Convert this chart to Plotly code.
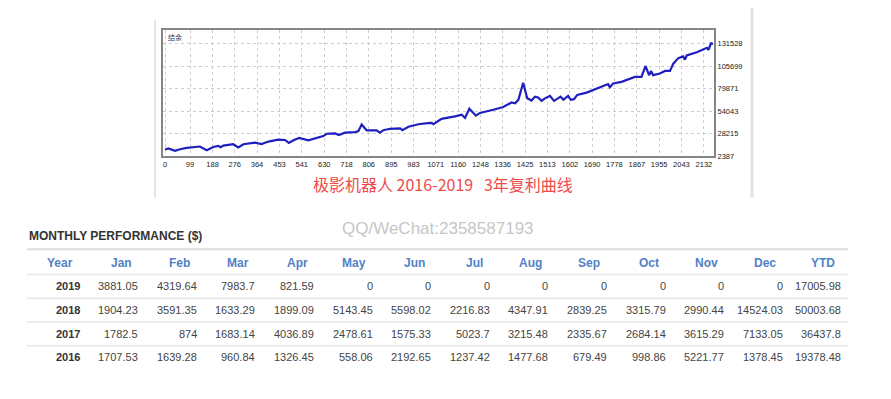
import plotly.graph_objects as go

# ---------------- data ----------------
# balance curve (trade index, balance)
trade_idx = [0, 13, 40, 59, 86, 138, 165, 191, 211, 220, 231, 270, 290, 310, 356, 382, 409, 448,
             475, 490, 508, 531, 567, 600, 626, 640, 673, 688, 712, 752, 765, 778, 798, 837, 850,
             864, 890, 930, 939, 963, 1002, 1040, 1055, 1062, 1088, 1094, 1147, 1174, 1187, 1204,
             1230, 1246, 1299, 1338, 1371, 1385, 1398, 1417, 1433, 1450, 1464, 1476, 1490, 1503,
             1523, 1539, 1565, 1576, 1595, 1605, 1618, 1631, 1668, 1701, 1727, 1753, 1760, 1773,
             1806, 1826, 1859, 1885, 1901, 1915, 1923, 1931, 1958, 1978, 1998, 2011, 2031, 2050,
             2057, 2064, 2104, 2144, 2150, 2160, 2168]
balance = [10000, 11100, 8400, 10300, 11800, 13400, 9200, 12900, 14100, 12600, 14500, 16000,
           12300, 16000, 17900, 16300, 19100, 21300, 20900, 17500, 20500, 23200, 20500, 23200,
           25400, 28100, 28500, 26600, 29300, 30000, 31100, 38700, 31900, 31900, 29300, 32200,
           33800, 34200, 32200, 36100, 39000, 40200, 40600, 39000, 44400, 45200, 48100, 50100,
           46300, 56900, 48900, 52000, 55700, 58800, 64000, 63100, 67100, 86700, 69000, 66300,
           70800, 69900, 65900, 68800, 71600, 65900, 70800, 67100, 71600, 67100, 67900, 72800,
           75400, 79200, 81500, 85200, 81500, 86000, 87800, 89800, 93500, 93500, 106000, 95500,
           100300, 95500, 97400, 100300, 100300, 108700, 115100, 117000, 113300, 118100, 121900,
           126900, 124600, 132100, 131528]

x_tick_vals = [0, 99, 188, 276, 364, 453, 541, 630, 718, 806, 895, 983, 1071, 1160, 1248, 1336,
               1425, 1513, 1602, 1690, 1778, 1867, 1955, 2043, 2132]
y_tick_vals = [2387, 28215, 54043, 79871, 105699, 131528]

chart_label = "结余"
caption = "极影机器人 2016-2019\u00a0\u00a0\u00a03年复利曲线"
watermark = "QQ/WeChat:2358587193"

table_title = "MONTHLY PERFORMANCE ($)"
columns = ["Year", "Jan", "Feb", "Mar", "Apr", "May", "Jun", "Jul", "Aug", "Sep", "Oct", "Nov", "Dec", "YTD"]
years = ["2019", "2018", "2017", "2016"]
perf_2019 = [3881.05, 4319.64, 7983.7, 821.59, 0, 0, 0, 0, 0, 0, 0, 0, 17005.98]
perf_2018 = [1904.23, 3591.35, 1633.29, 1899.09, 5143.45, 5598.02, 2216.83, 4347.91, 2839.25, 3315.79, 2990.44, 14524.03, 50003.68]
perf_2017 = [1782.5, 874, 1683.14, 4036.89, 2478.61, 1575.33, 5023.7, 3215.48, 2335.67, 2684.14, 3615.29, 7133.05, 36437.8]
perf_2016 = [1707.53, 1639.28, 960.84, 1326.45, 558.06, 2192.65, 1237.42, 1477.68, 679.49, 998.86, 5221.77, 1378.45, 19378.48]
perf_rows = [perf_2019, perf_2018, perf_2017, perf_2016]


def fmt(v):
    return f"{v:.2f}".rstrip("0").rstrip(".")


# page has an 8px body margin; figure fills the rest of the 891x399 window
OX, OY = 8, 8
W, H = 891 - OX, 399 - OY


def px(x):
    return (x - OX) / W


def py(y):
    return 1 - (y - OY) / H


fig = go.Figure()

fig.add_trace(go.Scatter(x=trade_idx, y=balance, mode="lines",
                         line=dict(color="#1f1fc0", width=2.2), hoverinfo="skip",
                         showlegend=False, xaxis="x", yaxis="y"))
fig.add_trace(go.Scatter(x=[0], y=[0], mode="markers", marker=dict(opacity=0),
                         hoverinfo="skip", showlegend=False, xaxis="x2", yaxis="y2"))

# table axes: column index / row index
COL0, COLW = 81.7, 58.58
ROW0, ROWH = 266.0, 24.0

tick_font = dict(family="Liberation Sans, Arial", size=7.5, color="#222222")
fig.update_layout(
    width=W, height=H,
    margin=dict(l=0, r=0, t=0, b=0),
    paper_bgcolor="white", plot_bgcolor="rgba(0,0,0,0)",
    showlegend=False,
    xaxis=dict(domain=[px(163), px(714)], range=[-8, 2172], tickvals=x_tick_vals,
               ticktext=[str(v) for v in x_tick_vals], tickfont=tick_font, ticks="",
               showgrid=True, gridcolor="#cdcdcd", griddash="dot", gridwidth=1,
               showline=True, mirror=True, linecolor="#858585", linewidth=2,
               zeroline=False, fixedrange=True),
    yaxis=dict(domain=[py(158), py(30)], range=[2387, 147760], side="right",
               tickvals=y_tick_vals, ticktext=[str(v) for v in y_tick_vals],
               tickfont=tick_font, ticks="",
               showgrid=True, gridcolor="#cdcdcd", griddash="dot", gridwidth=1,
               showline=True, mirror=True, linecolor="#858585", linewidth=2,
               zeroline=False, fixedrange=True),
    xaxis2=dict(domain=[0, 1], range=[(OX - COL0) / COLW, (891 - COL0) / COLW],
                visible=False, fixedrange=True),
    yaxis2=dict(domain=[0, 1], range=[(399 - ROW0) / ROWH, (OY - ROW0) / ROWH],
                visible=False, fixedrange=True),
)

annotations = []
shapes = []

shapes.append(dict(type="line", xref="paper", yref="paper", x0=px(155), x1=px(155),
                   y0=py(20), y1=py(200), line=dict(color="#e6e6e6", width=2)))
shapes.append(dict(type="line", xref="paper", yref="paper", x0=px(752), x1=px(752),
                   y0=1, y1=py(200), line=dict(color="#e2e2e2", width=3)))

annotations.append(dict(text=chart_label, xref="paper", yref="paper", x=px(166), y=py(37),
                        xanchor="left", yanchor="middle", showarrow=False,
                        font=dict(family="Noto Sans CJK SC", size=7, color="#333355")))
annotations.append(dict(text=caption, xref="paper", yref="paper", x=px(443), y=py(186),
                        xanchor="center", yanchor="middle", showarrow=False,
                        font=dict(family="Noto Sans CJK SC", size=16, color="#f04a4a")))
annotations.append(dict(text=watermark, xref="paper", yref="paper", x=px(438), y=py(231),
                        xanchor="center", yanchor="middle", showarrow=False,
                        font=dict(family="Liberation Sans, Arial", size=17, color="#c6c6c6")))

x_left = (27 - COL0) / COLW
x_right = (848 - COL0) / COLW
annotations.append(dict(text="<b>" + table_title + "</b>", xref="x2", yref="y2", x=x_left,
                        y=-1.125, xanchor="left", yanchor="middle", showarrow=False,
                        font=dict(family="Liberation Sans, Arial", size=12, color="#333333")))
top_line = -0.57
shapes.append(dict(type="line", xref="x2", yref="y2", x0=x_left, x1=x_right, y0=top_line, y1=top_line,
                   line=dict(color="#dddddd", width=2)))
for r in range(len(years)):
    shapes.append(dict(type="line", xref="x2", yref="y2", x0=x_left, x1=x_right, y0=r + 0.5, y1=r + 0.5,
                       line=dict(color="#e6e6e6", width=1.5)))

for k, name in enumerate(columns):
    annotations.append(dict(text="<b>" + name + "</b>", xref="x2", yref="y2", x=k - 0.11, y=0,
                            xanchor="right", yanchor="middle", showarrow=False,
                            font=dict(family="Liberation Sans, Arial", size=12, color="#5181c6")))

for r, (yr, vals) in enumerate(zip(years, perf_rows), start=1):
    annotations.append(dict(text="<b>" + yr + "</b>", xref="x2", yref="y2", x=0, y=r,
                            xanchor="right", yanchor="middle", showarrow=False,
                            font=dict(family="Liberation Sans, Arial", size=11, color="#333333")))
    for k, v in enumerate(vals, start=1):
        annotations.append(dict(text=fmt(v), xref="x2", yref="y2", x=k, y=r,
                                xanchor="right", yanchor="middle", showarrow=False,
                                font=dict(family="Liberation Sans, Arial", size=11, color="#444444")))

fig.update_layout(annotations=annotations, shapes=shapes)
fig.write_html("out.html")
